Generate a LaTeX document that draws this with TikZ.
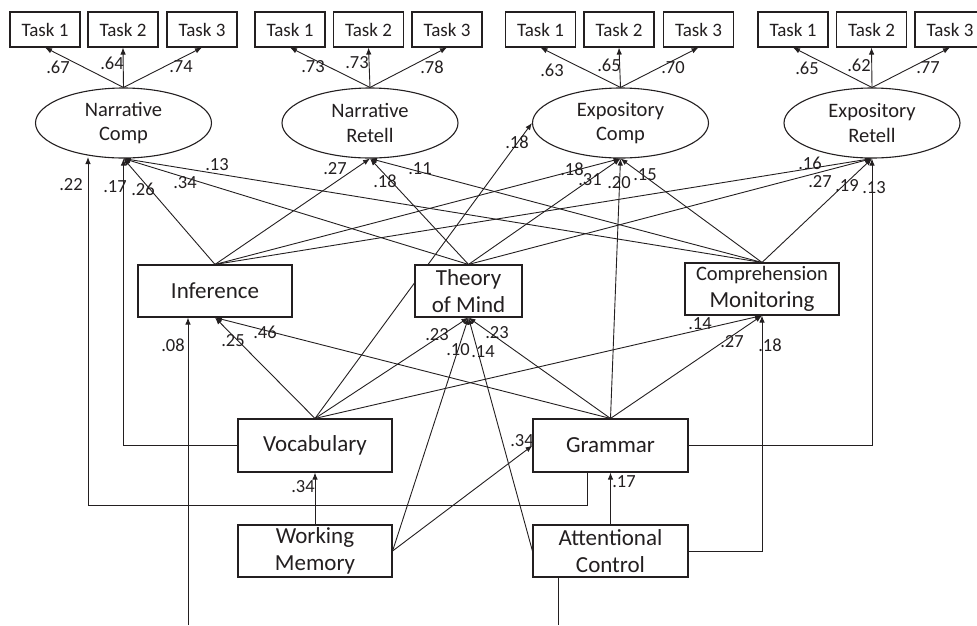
\documentclass[tikz,border=0pt]{standalone}
\usepackage{fontspec}
\setmainfont{Carlito}
\usetikzlibrary{shapes.geometric,arrows.meta}
\pgfdeclarelayer{bg}
\pgfsetlayers{bg,main}
\definecolor{ink}{RGB}{35,31,32}
\begin{document}
\begin{tikzpicture}[x=1pt,y=-1pt,
  every node/.style={text=ink},
  taskbox/.style={draw=ink,line width=1.1pt,rectangle,minimum width=70pt,minimum height=35pt,inner sep=0pt,fill=white,font=\fontsize{19}{22}\selectfont},
  latent/.style={draw=ink,line width=1.1pt,ellipse,minimum width=176pt,minimum height=70pt,inner sep=0pt,fill=white,align=center,font=\fontsize{20.5}{24.5}\selectfont},
  obsbox/.style={draw=ink,line width=1.1pt,rectangle,minimum height=52pt,inner sep=0pt,fill=white,align=center,font=\fontsize{23}{27}\selectfont},
  arr/.style={draw=ink,line width=0.9pt,-{Latex[length=7pt,width=5.5pt]}},
  plain/.style={draw=ink,line width=0.9pt},
  coef/.style={inner sep=0pt,font=\fontsize{18.5}{21}\selectfont}]
\useasboundingbox (0,0) rectangle (977,625);
% tasks
\node[taskbox] (t11) at (45,29.5) {Task 1};
\node[taskbox] (t12) at (123,29.5) {Task 2};
\node[taskbox] (t13) at (202,29.5) {Task 3};
\node[taskbox] (t21) at (290,29.5) {Task 1};
\node[taskbox] (t22) at (368.5,29.5) {Task 2};
\node[taskbox] (t23) at (447,29.5) {Task 3};
\node[taskbox] (t31) at (540.5,29.5) {Task 1};
\node[taskbox] (t32) at (619,29.5) {Task 2};
\node[taskbox] (t33) at (698.5,29.5) {Task 3};
\node[taskbox] (t41) at (793,29.5) {Task 1};
\node[taskbox] (t42) at (871.5,29.5) {Task 2};
\node[taskbox] (t43) at (950,29.5) {Task 3};
% latents
\node[latent] (NC) at (123.5,123) {Narrative\\Comp};
\node[latent] (NR) at (370,123) {Narrative\\Retell};
\node[latent] (EC) at (620.5,123) {Expository\\Comp};
\node[latent] (ER) at (872,123) {Expository\\Retell};
% observed
\node[obsbox,minimum width=154pt] (I) at (215,291) {Inference};
\node[obsbox,minimum width=107pt] (T) at (468.5,291) {Theory\\of Mind};
\node[obsbox,minimum width=154pt] (CM) at (762,289) {{\fontsize{20.5}{24}\selectfont Comprehension}\\Monitoring};
\node[obsbox,minimum width=154pt,minimum height=53pt] (V) at (315,445.5) {Vocabulary};
\node[obsbox,minimum width=154pt] (W) at (315,551) {Working\\Memory};
\node[obsbox,minimum width=155pt,minimum height=53pt] (G) at (610.5,445.5) {Grammar};
\node[obsbox,minimum width=155pt] (A) at (610.5,551) {Attentional\\Control};
% helper coordinates
\coordinate (gdrop) at (587,472);
\coordinate (gx) at (88,505);
\coordinate (nc22) at (88,157);
\coordinate (inb) at (188,625);
\coordinate (acb) at (558,625);
\begin{pgfonlayer}{bg}
% loadings
\foreach \e/\g in {NC/1,NR/2,EC/3,ER/4}{
  \foreach \k in {1,2,3}{ \draw[arr] (\e.north) -- (t\g\k.south); }
}
% to latents
\draw[arr] (I.north) -- (NC.south);
\draw[arr] (I.north) -- (NR.south);
\draw[arr] (I.north) -- (EC.south);
\draw[arr] (I.north) -- (ER.south);
\draw[arr] (T.north) -- (NC.south);
\draw[arr] (T.north) -- (NR.south);
\draw[arr] (T.north) -- (EC.south);
\draw[arr] (T.north) -- (ER.south);
\draw[arr] (CM.north) -- (NC.south);
\draw[arr] (CM.north) -- (NR.south);
\draw[arr] (CM.north) -- (EC.south);
\draw[arr] (CM.north) -- (ER.south);
\draw[arr] (V.west) -| (NC.south);
\draw[arr] (V.north) -- (EC.west);
\draw[arr] (G.north) -- (EC.south);
\draw[arr] (G.east) -| (ER.south);
\draw[arr] (gdrop) |- (gx) -- (nc22);
% to mediators
\draw[arr] (V.north) -- (I.south);
\draw[arr] (V.north) -- (T.south);
\draw[arr] (V.north) -- (CM.south);
\draw[arr] (G.north) -- (I.south);
\draw[arr] (G.north) -- (T.south);
\draw[arr] (G.north) -- (CM.south);
\draw[arr] (W.east) -- (T.south);
\draw[arr] (A.west) -- (T.south);
\draw[arr] (A.east) -| (CM.south);
\draw[arr] (inb) -- (inb |- I.south);
% bottom level
\draw[arr] (W.north) -- (V.south);
\draw[arr] (W.east) -- (G.west);
\draw[arr] (A.north) -- (G.south);
\draw[plain] (A.south -| acb) -- (acb);
\end{pgfonlayer}
% coefficients
\foreach \n/\x/\y/\t in {
 1/58/67/.67, 2/112/63/.64, 3/181/67/.74,
 4/313/67/.73, 5/357/63/.73, 6/432/67/.78,
 7/552/70/.63, 8/609/65/.65, 9/673/68/.70,
 10/807/68/.65, 11/859/65/.62, 12/928/68/.77,
 13/71/185/.22, 14/115/187/.17, 15/143/189/.26, 16/185/183/.34, 17/217/165/.13,
 18/335/169/.27, 19/385/181/.18, 20/420/169/.11,
 21/517/142/.18, 22/572/169/.18, 23/590/180/.31, 24/619/183/.20, 25/645/175/.15,
 26/810/163/.16, 27/820/182/.27, 28/847/186/.19, 29/874/188/.13,
 30/173/345/.08, 31/233/341/.25, 32/265/332/.46,
 33/437/335/.23, 34/458/350/.10, 35/483/352/.14, 36/497/333/.23,
 37/700/324/.14, 38/732/342/.27, 39/770/345/.18,
 40/522/441/.34, 41/624/482/.17, 42/303/487/.34}{
 \node[coef] (c\n) at (\x,\y) {\t};
}
\end{tikzpicture}
\end{document}
